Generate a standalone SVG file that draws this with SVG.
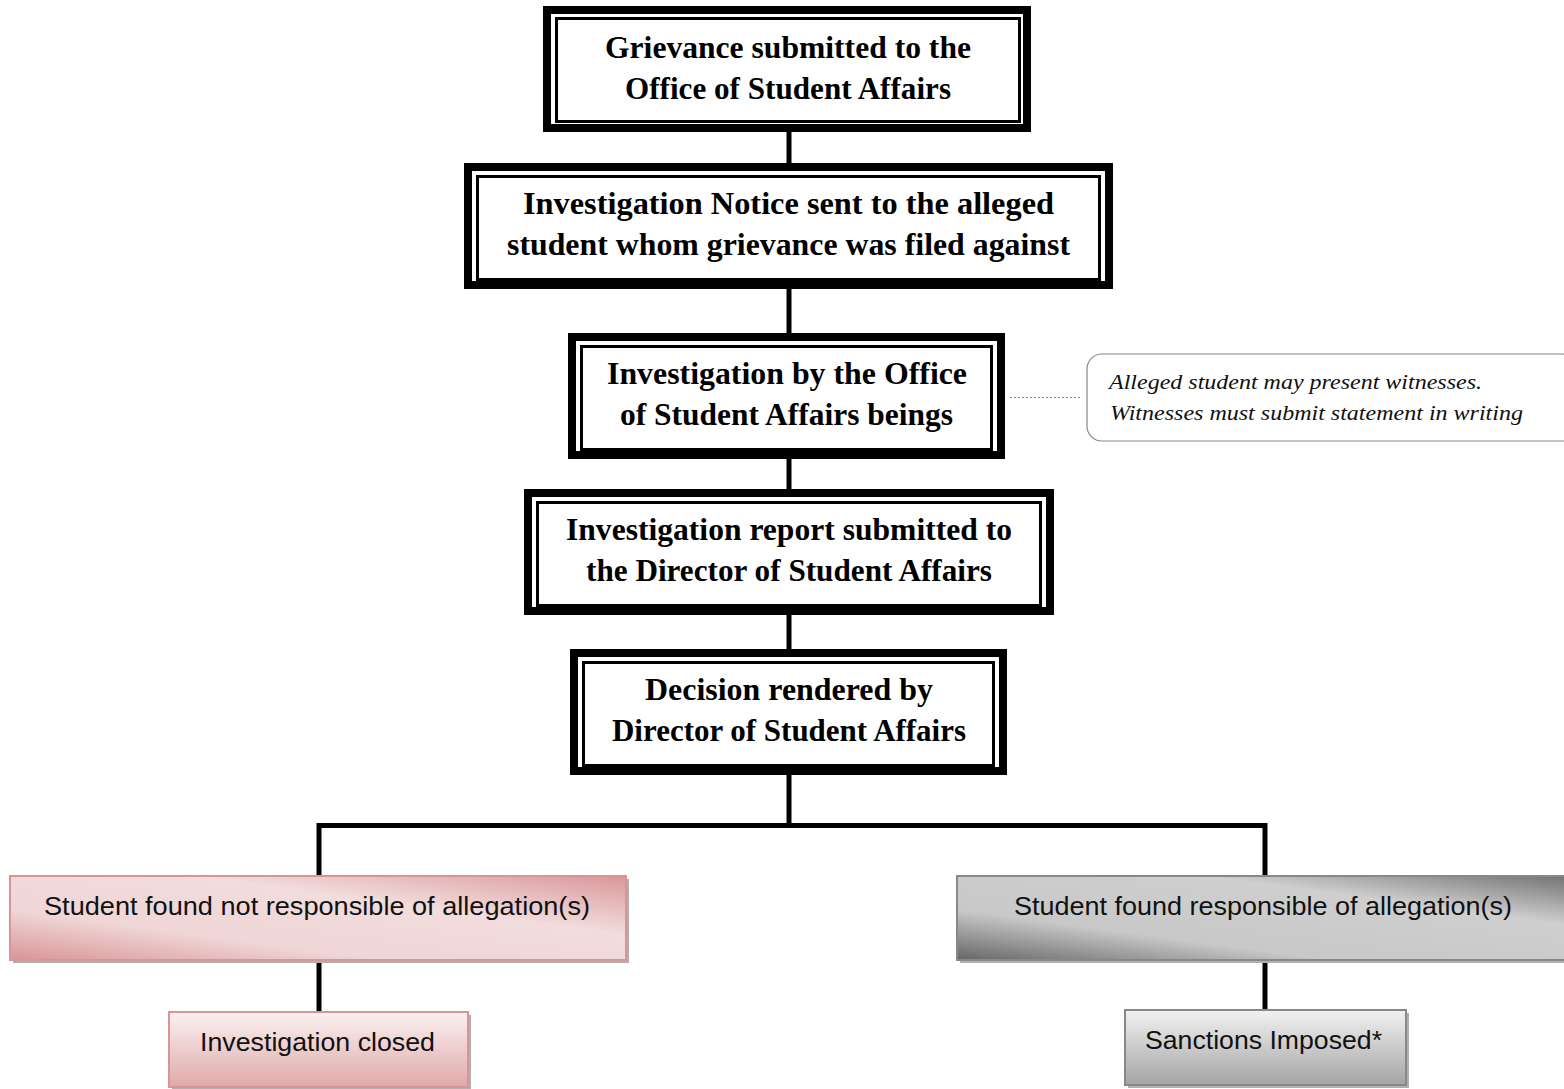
<svg xmlns="http://www.w3.org/2000/svg" width="1564" height="1089" viewBox="0 0 1564 1089">
<style>
.outer{fill:#fff;stroke:#000;stroke-width:8}
.inner{fill:none;stroke:#000;stroke-width:3}
.t{font-family:"Liberation Serif",serif;font-weight:bold;font-size:31px;text-anchor:middle;fill:#000}
.s{font-family:"Liberation Sans",sans-serif;font-size:26px;text-anchor:middle;fill:#111}
.note{font-family:"Liberation Serif",serif;font-style:italic;font-size:22px;fill:#111}
.conn{stroke:#000;stroke-width:5;fill:none}
.shadow{fill:#b0b0b0}
</style>
<defs>
<linearGradient id="pinkG" x1="0" y1="1" x2="1" y2="0">
<stop offset="0" stop-color="#d99496"/>
<stop offset="0.3" stop-color="#f0d6d6"/>
<stop offset="0.65" stop-color="#f2dcdc"/>
<stop offset="1" stop-color="#d9979a"/>
</linearGradient>
<linearGradient id="grayG" x1="0" y1="1" x2="1" y2="0">
<stop offset="0" stop-color="#666"/>
<stop offset="0.3" stop-color="#c8c8c8"/>
<stop offset="0.7" stop-color="#cfcfcf"/>
<stop offset="1" stop-color="#707070"/>
</linearGradient>
<linearGradient id="pinkV" x1="0" y1="0" x2="0" y2="1">
<stop offset="0" stop-color="#fbf1f1"/>
<stop offset="1" stop-color="#dfa9aa"/>
</linearGradient>
<linearGradient id="grayV" x1="0" y1="0" x2="0" y2="1">
<stop offset="0" stop-color="#f2f2f2"/>
<stop offset="1" stop-color="#a4a4a4"/>
</linearGradient>
</defs>

<g id="connectors">
<line class="conn" x1="789" y1="132" x2="789" y2="163"/>
<line class="conn" x1="789" y1="289" x2="789" y2="333"/>
<line class="conn" x1="789" y1="459" x2="789" y2="489"/>
<line class="conn" x1="789" y1="615" x2="789" y2="649"/>
<line class="conn" x1="789" y1="775" x2="789" y2="823"/>
<polyline class="conn" points="319,876 319,825.5 1265,825.5 1265,876"/>
<line class="conn" x1="319" y1="960" x2="319" y2="1012"/>
<line class="conn" x1="1265" y1="960" x2="1265" y2="1010"/>
<line x1="1010" y1="397.5" x2="1080" y2="397.5" stroke="#888" stroke-width="1.2" stroke-dasharray="2,2"/>
</g>

<g id="n1">
<rect class="outer" x="547" y="10" width="480" height="118"/>
<rect class="inner" x="556.5" y="18.5" width="463" height="103"/>
<text class="t" x="788" y="58" textLength="366" lengthAdjust="spacingAndGlyphs">Grievance submitted to the</text>
<text class="t" x="788" y="99" textLength="326" lengthAdjust="spacingAndGlyphs">Office of Student Affairs</text>
</g>

<g id="n2">
<rect class="outer" x="468" y="167" width="641" height="118"/>
<rect class="inner" x="477.5" y="176.5" width="622" height="103"/>
<text class="t" x="788.5" y="214" textLength="531" lengthAdjust="spacingAndGlyphs">Investigation Notice sent to the alleged</text>
<text class="t" x="788.5" y="255" textLength="563" lengthAdjust="spacingAndGlyphs">student whom grievance was filed against</text>
</g>

<g id="n3">
<rect class="outer" x="572" y="337" width="429" height="118"/>
<rect class="inner" x="581.5" y="346.5" width="410" height="103"/>
<text class="t" x="787" y="384" textLength="360" lengthAdjust="spacingAndGlyphs">Investigation by the Office</text>
<text class="t" x="786.5" y="425" textLength="333" lengthAdjust="spacingAndGlyphs">of Student Affairs beings</text>
</g>

<g id="n4">
<rect class="outer" x="528" y="493" width="522" height="118"/>
<rect class="inner" x="537.5" y="502.5" width="503" height="103"/>
<text class="t" x="789" y="540" textLength="446" lengthAdjust="spacingAndGlyphs">Investigation report submitted to</text>
<text class="t" x="789" y="581" textLength="406" lengthAdjust="spacingAndGlyphs">the Director of Student Affairs</text>
</g>

<g id="n5">
<rect class="outer" x="574" y="653" width="429" height="118"/>
<rect class="inner" x="583.5" y="662.5" width="410" height="103"/>
<text class="t" x="789" y="700" textLength="288" lengthAdjust="spacingAndGlyphs">Decision rendered by</text>
<text class="t" x="789" y="741" textLength="354" lengthAdjust="spacingAndGlyphs">Director of Student Affairs</text>
</g>

<g id="note">
<rect x="1087" y="354" width="490" height="87" rx="15" ry="15" fill="#fff" stroke="#888" stroke-width="1.2"/>
<text class="note" x="1109" y="389" textLength="373" lengthAdjust="spacingAndGlyphs">Alleged student may present witnesses.</text>
<text class="note" x="1110" y="420" textLength="413" lengthAdjust="spacingAndGlyphs">Witnesses must submit statement in writing</text>
</g>

<g id="n6">
<rect class="shadow" x="13" y="879" width="616" height="84"/>
<rect x="10" y="876" width="616" height="84" fill="url(#pinkG)" stroke="#d99594" stroke-width="2"/>
<text class="s" x="317" y="915" textLength="546" lengthAdjust="spacingAndGlyphs">Student found not responsible of allegation(s)</text>
</g>

<g id="n7">
<rect class="shadow" x="960" y="879" width="620" height="84"/>
<rect x="957" y="876" width="620" height="84" fill="url(#grayG)" stroke="#888" stroke-width="2"/>
<text class="s" x="1263" y="915" textLength="498" lengthAdjust="spacingAndGlyphs">Student found responsible of allegation(s)</text>
</g>

<g id="n8">
<rect class="shadow" x="172" y="1015" width="299" height="75"/>
<rect x="169" y="1012" width="299" height="75" fill="url(#pinkV)" stroke="#d99594" stroke-width="2"/>
<text class="s" x="317.5" y="1051" textLength="235" lengthAdjust="spacingAndGlyphs">Investigation closed</text>
</g>

<g id="n9">
<rect class="shadow" x="1128" y="1013" width="281" height="75"/>
<rect x="1125" y="1010" width="281" height="75" fill="url(#grayV)" stroke="#888" stroke-width="2"/>
<text class="s" x="1263.5" y="1049" textLength="237" lengthAdjust="spacingAndGlyphs">Sanctions Imposed*</text>
</g>
</svg>
